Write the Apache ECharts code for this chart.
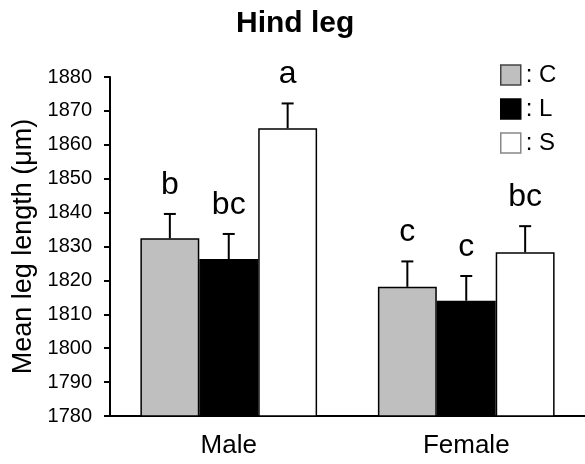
<!DOCTYPE html>
<html>
<head>
<meta charset="utf-8">
<script src="https://cdn.jsdelivr.net/npm/echarts@6/dist/echarts.min.js"></script>
<style>html,body{margin:0;padding:0;background:#fff}#c{width:585px;height:464px}</style>
</head>
<body>
<div id="c"></div>
<script>
const categories = ['Male', 'Female'];
const seriesNames = ['C', 'L', 'S'];
const meanC = [1832.4, 1818.1];
const meanL = [1826.3, 1814.0];
const meanS = [1864.9, 1828.3];
const errC = [7.2, 7.5];
const errL = [7.4, 7.3];
const errS = [7.3, 7.7];
const lettersC = ['b', 'c'];
const lettersL = ['bc', 'c'];
const lettersS = ['a', 'bc'];
const yMin = 1780, yMax = 1880, yStep = 10;

const FONT = 'Liberation Sans, Arial, sans-serif';
const GAP = 0.256;
const fills = ['#bfbfbf', '#000000', '#ffffff'];
const legendBorders = ['#444444', '#000000', '#888888'];
const means = [meanC, meanL, meanS];
const errs = [errC, errL, errS];
const letters = [lettersC, lettersL, lettersS];

function makeRender(idx) {
  return function (params, api) {
    const cat = api.value(0), v = api.value(1), e = api.value(2);
    const base = api.coord([cat, v]);
    const top = api.coord([cat, v + e]);
    const bandW = api.size([1, 0])[0];
    const barW = bandW * (1 - GAP) / 3;
    const x = base[0] + (idx - 1) * barW;
    return {
      type: 'group',
      children: [
        { type: 'line', shape: { x1: x, y1: base[1], x2: x, y2: top[1] }, style: { stroke: '#000', lineWidth: 2 } },
        { type: 'line', shape: { x1: x - 6, y1: top[1], x2: x + 6, y2: top[1] }, style: { stroke: '#000', lineWidth: 2 } },
        { type: 'text', style: { text: letters[idx][params.dataIndex], x: x, y: top[1] - 13, align: 'center', verticalAlign: 'bottom', fontSize: 32, fontFamily: FONT, fill: '#000' } }
      ]
    };
  };
}

const series = [];
seriesNames.forEach((n, i) => {
  series.push({
    name: n, type: 'bar', data: means[i], barGap: '0%', barCategoryGap: (GAP * 100) + '%',
    itemStyle: { color: fills[i], borderColor: '#000', borderWidth: 1.5 }
  });
});
seriesNames.forEach((n, i) => {
  series.push({
    type: 'custom', z: 5,
    data: categories.map((c, k) => [k, means[i][k], errs[i][k]]),
    renderItem: makeRender(i)
  });
});

const chart = echarts.init(document.getElementById('c'), null, { renderer: 'canvas' });
chart.setOption({
  animation: false,
  backgroundColor: '#fff',
  title: { text: 'Hind leg', left: 236, top: 9, padding: 0, textStyle: { fontFamily: FONT, fontSize: 30, fontWeight: 'bold', color: '#000' } },
  legend: {
    orient: 'vertical', left: 500, top: 63, padding: 0, itemWidth: 20, itemHeight: 20, itemGap: 10,
    icon: 'rect', formatter: ': {name}',
    textStyle: { fontFamily: FONT, fontSize: 24, color: '#000' },
    data: seriesNames.map((n, i) => ({ name: n, itemStyle: { color: fills[i], borderColor: legendBorders[i], borderWidth: 1.5 } }))
  },
  grid: { left: 110, right: -2, top: 77, bottom: 48, containLabel: false },
  xAxis: {
    type: 'category', data: categories,
    axisLine: { lineStyle: { color: '#000', width: 2 } },
    axisTick: { alignWithLabel: true, length: 6, lineStyle: { color: '#000', width: 2 } },
    axisLabel: { fontFamily: FONT, fontSize: 26, color: '#000', margin: 17 }
  },
  yAxis: {
    type: 'value', min: yMin, max: yMax, interval: yStep,
    name: 'Mean leg length (μm)', nameLocation: 'middle', nameGap: 69,
    nameTextStyle: { fontFamily: FONT, fontSize: 27, color: '#000' },
    splitLine: { show: false },
    axisLine: { show: true, lineStyle: { color: '#000', width: 2 } },
    axisTick: { show: true, length: 6, lineStyle: { color: '#000', width: 2 } },
    axisLabel: { fontFamily: FONT, fontSize: 20, color: '#000', margin: 18, formatter: v => String(v) }
  },
  series: series
});
</script>
</body>
</html>
